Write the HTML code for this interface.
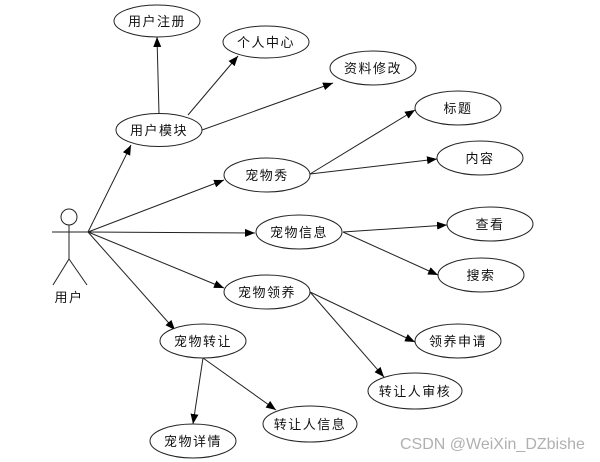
<!DOCTYPE html>
<html><head><meta charset="utf-8"><style>
html,body{margin:0;padding:0;background:#fff;}
svg{display:block;}
text{font-family:"Liberation Sans","Noto Sans CJK SC",sans-serif;font-size:13px;fill:#111;letter-spacing:1.5px;}
</style></head><body>
<svg width="600" height="462" viewBox="0 0 600 462" xmlns="http://www.w3.org/2000/svg">
<defs><marker id="a" markerWidth="10" markerHeight="8" refX="10" refY="4" orient="auto" markerUnits="userSpaceOnUse"><path d="M0,0 L10,4 L0,8 z" fill="#000"/></marker></defs>
<g stroke="#222" stroke-width="1" fill="none">
<circle cx="69" cy="217" r="8"/>
<line x1="52" y1="232" x2="88" y2="232"/>
<line x1="69" y1="225" x2="69" y2="259"/>
<line x1="69" y1="259" x2="53" y2="285"/>
<line x1="69" y1="259" x2="87" y2="285"/>
</g>
<g stroke="#222" stroke-width="1" marker-end="url(#a)">
<line x1="88" y1="232" x2="131" y2="145"/>
<line x1="88" y1="232" x2="224" y2="180"/>
<line x1="88" y1="232" x2="255" y2="233"/>
<line x1="88" y1="232" x2="224" y2="288"/>
<line x1="88" y1="232" x2="175" y2="330"/>
<line x1="159" y1="114" x2="157" y2="37"/>
<line x1="188" y1="115" x2="238" y2="56"/>
<line x1="202" y1="130" x2="333" y2="83"/>
<line x1="310" y1="174" x2="415" y2="110"/>
<line x1="310" y1="174" x2="437" y2="159"/>
<line x1="343" y1="232" x2="447" y2="225"/>
<line x1="343" y1="232" x2="438" y2="275"/>
<line x1="310" y1="292" x2="415" y2="342"/>
<line x1="310" y1="292" x2="384" y2="377"/>
<line x1="203" y1="358" x2="193" y2="424"/>
<line x1="203" y1="358" x2="276" y2="410"/>
</g>
<g stroke="#222" stroke-width="1" fill="#fff">
<ellipse cx="157" cy="21" rx="43" ry="16"/>
<ellipse cx="266" cy="42" rx="43" ry="16"/>
<ellipse cx="373" cy="68" rx="43" ry="17"/>
<ellipse cx="159" cy="130" rx="43" ry="16.5"/>
<ellipse cx="458" cy="108" rx="43" ry="17"/>
<ellipse cx="267" cy="175" rx="43" ry="17"/>
<ellipse cx="480" cy="158" rx="43" ry="17"/>
<ellipse cx="299" cy="232" rx="43" ry="17"/>
<ellipse cx="490" cy="224" rx="43" ry="17"/>
<ellipse cx="481" cy="275" rx="43" ry="17"/>
<ellipse cx="267" cy="292" rx="43" ry="17"/>
<ellipse cx="203" cy="341" rx="43" ry="17"/>
<ellipse cx="458" cy="341" rx="43" ry="17"/>
<ellipse cx="415" cy="391" rx="47" ry="18"/>
<ellipse cx="310" cy="424" rx="47" ry="18"/>
<ellipse cx="193" cy="441" rx="43" ry="17"/>
</g>
<g text-anchor="middle">
<text x="157" y="26">用户注册</text>
<text x="266" y="47">个人中心</text>
<text x="373" y="73">资料修改</text>
<text x="159" y="135">用户模块</text>
<text x="458" y="113">标题</text>
<text x="267" y="180">宠物秀</text>
<text x="480" y="163">内容</text>
<text x="299" y="237">宠物信息</text>
<text x="490" y="229">查看</text>
<text x="481" y="280">搜索</text>
<text x="267" y="297">宠物领养</text>
<text x="203" y="346">宠物转让</text>
<text x="458" y="346">领养申请</text>
<text x="415" y="396">转让人审核</text>
<text x="310" y="429">转让人信息</text>
<text x="193" y="446">宠物详情</text>
<text x="69" y="302">用户</text>
</g>
<text x="400" y="449" style="font-size:16px;fill:#b0b0b0;letter-spacing:0">CSDN @WeiXin_DZbishe</text>
</svg>
</body></html>
